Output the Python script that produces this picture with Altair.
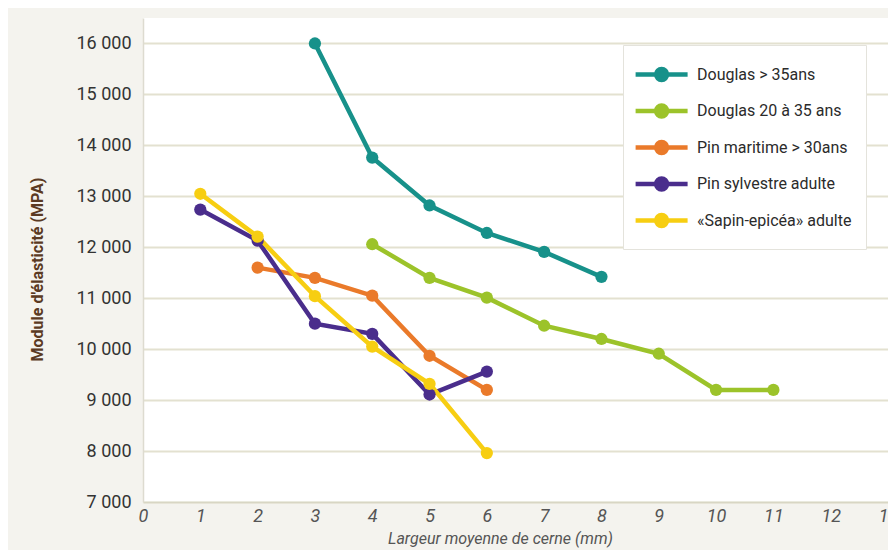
import altair as alt
import pandas as pd

series = ["Douglas > 35ans", "Douglas 20 à 35 ans", "Pin maritime > 30ans",
          "Pin sylvestre adulte", "«Sapin-epicéa» adulte"]
colors = ["#17918a", "#9cc32a", "#ea7a2a", "#4a2d8c", "#f7ce12"]

douglas35_x = [3, 4, 5, 6, 7, 8]
douglas35_y = [16000, 13760, 12820, 12280, 11910, 11420]
douglas20_x = [4, 5, 6, 7, 8, 9, 10, 11]
douglas20_y = [12060, 11400, 11010, 10460, 10200, 9910, 9200, 9200]
maritime_x = [2, 3, 4, 5, 6]
maritime_y = [11600, 11400, 11050, 9870, 9200]
sylvestre_x = [1, 2, 3, 4, 5, 6]
sylvestre_y = [12740, 12130, 10500, 10300, 9110, 9560]
sapin_x = [1, 2, 3, 4, 5, 6]
sapin_y = [13050, 12210, 11040, 10050, 9320, 7960]

xs = [douglas35_x, douglas20_x, maritime_x, sylvestre_x, sapin_x]
ys = [douglas35_y, douglas20_y, maritime_y, sylvestre_y, sapin_y]

rows = []
for i, (name, xv, yv) in enumerate(zip(series, xs, ys)):
    for j, (a, b) in enumerate(zip(xv, yv)):
        rows.append({"serie": name, "order": i, "idx": j, "x": a, "y": b})
df = pd.DataFrame(rows)

font = "Roboto"

color = alt.Color(
    "serie:N",
    scale=alt.Scale(domain=series, range=colors),
    legend=alt.Legend(
        title=None,
        orient="none",
        legendX=480,
        legendY=27,
        fillColor="white",
        strokeColor="#e4e3dc",
        padding=14,
        symbolType="M-1.3,0H2.7M0.28,0A0.42,0.42 0 1,0 1.12,0A0.42,0.42 0 1,0 0.28,0",
        symbolSize=676,
        symbolStrokeWidth=4.5,
        labelFont=font,
        labelFontSize=16,
        labelColor="#2b2b2b",
        labelOffset=29,
        rowPadding=6.5,
        labelLimit=300,
    ),
)

x = alt.X(
    "x:Q",
    scale=alt.Scale(domain=[0, 13], nice=False),
    axis=alt.Axis(
        values=list(range(0, 14)),
        title="Largeur moyenne de cerne (mm)",
        grid=False,
        ticks=False,
        labelFontStyle="italic",
        labelFontSize=18,
        labelColor="#555555",
        labelFont=font,
        labelPadding=5,
        domainColor="#d8d6c4",
        domainWidth=1.5,
        titleFont=font,
        titleFontStyle="italic",
        titleFontWeight="normal",
        titleFontSize=16,
        titleColor="#555555",
        titleX=357,
        titleY=36,
        titleBaseline="middle",
        labelFlush=False,
    ),
)
y = alt.Y(
    "y:Q",
    scale=alt.Scale(domain=[7000, 16500], nice=False, zero=False),
    axis=alt.Axis(
        values=list(range(7000, 17000, 1000)),
        labelExpr="replace(format(datum.value, ','), ',', ' ')",
        title="Module d'élasticité (MPA)",
        ticks=False,
        gridColor="#e3e1d0",
        gridWidth=2,
        labelFontSize=18,
        labelColor="#333333",
        labelFont=font,
        labelPadding=12,
        domainColor="#dddbd0",
        domainWidth=1.5,
        titleFont=font,
        titleFontWeight="bold",
        titleFontSize=16,
        titleColor="#5b3a22",
        titleX=-98,
        titleY=251,
        titleAngle=270,
        titleBaseline="bottom",
    ),
)

base = alt.Chart(df)
lines = base.mark_line(strokeWidth=4.5).encode(
    x=x, y=y, color=color, order="idx:Q", detail="serie:N"
)
points = base.mark_circle(size=150, opacity=1).encode(
    x=x, y=y, color=alt.Color("serie:N", scale=alt.Scale(domain=series, range=colors), legend=None)
)

chart = alt.layer(lines, points).properties(
    width=745,
    height=484,
    background="#f4f3ee",
    padding={"left": 135, "top": 10, "right": 0, "bottom": 48},
    autosize=alt.AutoSizeParams(type="none"),
).configure_view(fill="white", stroke=None)

chart.save("out.html", embed_options={"renderer": "svg", "actions": False})
